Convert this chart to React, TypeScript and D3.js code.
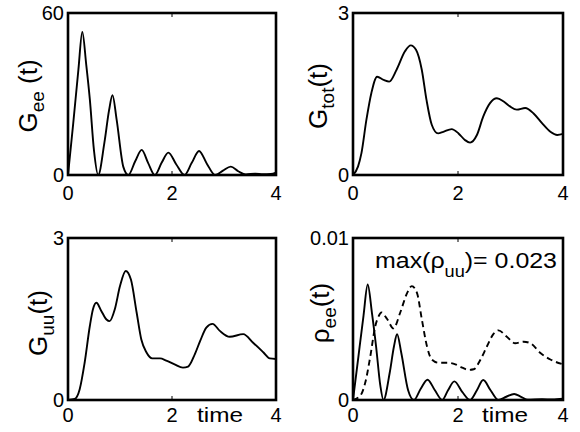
import React from "react";
import * as d3 from "d3";

// ---------- data ----------
const xTicks = [0, 2, 4];
const xTickLabels = ["0", "2", "4"];

const geeTicks = [0, 60];
const geeTickLabels = ["0", "60"];
const gTicks = [0, 3];
const gTickLabels = ["0", "3"];
const rhoTicks = [0, 0.01];
const rhoTickLabels = ["0", "0.01"];

const gee: [number, number][] = [
  [0, 0], [0.1, 19], [0.2, 39], [0.275, 53], [0.35, 41], [0.42, 28], [0.5, 9], [0.58, 0],
  [0.7, 12], [0.79, 24], [0.855, 29.6], [0.936, 20.4], [1.064, 3], [1.16, 0],
  [1.29, 5], [1.417, 9.3], [1.54, 4.5], [1.67, 0],
  [1.8, 4.5], [1.93, 8.3], [2.08, 4], [2.24, 0],
  [2.38, 4.5], [2.52, 8.9], [2.67, 4.2], [2.83, 0],
  [2.98, 1.6], [3.13, 3.1], [3.28, 1.3], [3.42, 0.2],
  [3.6, 0.5], [3.75, 0.3], [3.9, 0.4], [4, 0.9],
];

const gtot: [number, number][] = [
  [0, 0], [0.095, 0.155], [0.16, 0.4], [0.255, 1.02], [0.35, 1.52], [0.46, 1.82],
  [0.585, 1.76], [0.69, 1.73], [0.83, 1.95], [0.99, 2.29], [1.1, 2.4], [1.2, 2.32],
  [1.31, 1.95], [1.4, 1.39], [1.5, 0.93], [1.62, 0.77], [1.72, 0.8], [1.88, 0.85],
  [2.01, 0.77], [2.13, 0.65], [2.23, 0.6], [2.36, 0.74], [2.48, 1.08], [2.61, 1.33],
  [2.74, 1.42], [2.87, 1.36], [2.99, 1.27], [3.12, 1.21], [3.28, 1.24], [3.44, 1.14],
  [3.6, 0.96], [3.76, 0.8], [3.89, 0.74], [4, 0.76],
];

const guu: [number, number][] = [
  [0, 0], [0.13, 0.02], [0.225, 0.2], [0.32, 0.69], [0.42, 1.37], [0.48, 1.68],
  [0.546, 1.8], [0.64, 1.65], [0.74, 1.49], [0.8, 1.46], [0.9, 1.68], [1.0, 2.11],
  [1.11, 2.39], [1.21, 2.23], [1.32, 1.62], [1.41, 1.12], [1.51, 0.88], [1.62, 0.77],
  [1.77, 0.77], [1.89, 0.73], [2.05, 0.66], [2.21, 0.6], [2.31, 0.62], [2.44, 0.85],
  [2.54, 1.09], [2.66, 1.34], [2.78, 1.41], [2.92, 1.28], [3.11, 1.17], [3.37, 1.22],
  [3.56, 1.06], [3.76, 0.88], [3.88, 0.77], [4, 0.76],
];

const rhoEe: [number, number][] = [
  [0, 0], [0.1, 0.0026], [0.2, 0.0052], [0.28, 0.00713], [0.36, 0.0054], [0.44, 0.0033],
  [0.52, 0.0009], [0.58, 0],
  [0.7, 0.0017], [0.78, 0.0033], [0.84, 0.00406], [0.92, 0.0029], [1.05, 0.0006], [1.16, 0],
  [1.29, 0.0007], [1.42, 0.00125], [1.56, 0.0006], [1.7, 0],
  [1.81, 0.0006], [1.93, 0.00115], [2.08, 0.0005], [2.23, 0],
  [2.36, 0.0006], [2.48, 0.00123], [2.62, 0.0006], [2.77, 0],
  [2.92, 0.0002], [3.07, 0.00037], [3.2, 0.0002], [3.33, 0.00002],
  [3.6, 0.00005], [3.8, 0.00003], [4, 0.00008],
];

const rhoUu: [number, number][] = [
  [0, 0], [0.14, 0.00027], [0.235, 0.00109], [0.33, 0.0027], [0.425, 0.00457],
  [0.49, 0.00518], [0.54, 0.0054], [0.65, 0.005], [0.77, 0.00442], [0.9, 0.0054],
  [1.03, 0.0066], [1.12, 0.00703], [1.22, 0.0066], [1.31, 0.005], [1.41, 0.0033],
  [1.5, 0.0025], [1.63, 0.0023], [1.79, 0.0023], [1.95, 0.0022], [2.08, 0.002],
  [2.2, 0.00186], [2.3, 0.0019], [2.43, 0.0025], [2.55, 0.0033], [2.68, 0.0041],
  [2.77, 0.0043], [2.93, 0.0039], [3.09, 0.0035], [3.25, 0.0036], [3.38, 0.0035],
  [3.57, 0.0029], [3.76, 0.0025], [4, 0.0022],
];

// ---------- drawing ----------
const FONT = "'Liberation Sans', Arial, Helvetica, sans-serif";

type Panel = {
  left: number; right: number; top: number; bottom: number;
  yMax: number; yTicks: number[]; yTickLabels: string[];
  xBase: number;
  label: { main: string; sub: string; rest: string; x: number; y: number };
  series: { data: [number, number][]; dash?: string }[];
  time?: boolean;
  note?: boolean;
};

const panels: Panel[] = [
  {
    left: 68, right: 276, top: 13, bottom: 175, yMax: 60,
    yTicks: geeTicks, yTickLabels: geeTickLabels, xBase: 200,
    label: { main: "G", sub: "ee", rest: " (t)", x: 37, y: 96 },
    series: [{ data: gee }],
  },
  {
    left: 353, right: 563, top: 13, bottom: 175, yMax: 3,
    yTicks: gTicks, yTickLabels: gTickLabels, xBase: 200,
    label: { main: "G", sub: "tot", rest: "(t)", x: 327, y: 96 },
    series: [{ data: gtot }],
  },
  {
    left: 68, right: 276, top: 238, bottom: 400, yMax: 3,
    yTicks: gTicks, yTickLabels: gTickLabels, xBase: 422,
    label: { main: "G", sub: "uu", rest: "(t)", x: 47, y: 323 },
    series: [{ data: guu }],
    time: true,
  },
  {
    left: 353, right: 563, top: 238, bottom: 400, yMax: 0.01,
    yTicks: rhoTicks, yTickLabels: rhoTickLabels, xBase: 422,
    label: { main: "ρ", sub: "ee", rest: "(t)", x: 329, y: 313 },
    series: [{ data: rhoEe }, { data: rhoUu, dash: "6,4" }],
    time: true,
    note: true,
  },
];

function PanelView({ p }: { p: Panel }) {
  const x = d3.scaleLinear().domain([0, 4]).range([p.left, p.right]);
  const y = d3.scaleLinear().domain([0, p.yMax]).range([p.bottom, p.top]);
  const line = d3
    .line<[number, number]>()
    .x((d) => x(d[0]))
    .y((d) => y(d[1]))
    .curve(d3.curveMonotoneX);
  return (
    <g>
      {p.series.map((s, i) => (
        <path
          key={i}
          d={line(s.data) || ""}
          fill="none"
          stroke="#000"
          strokeWidth={1.9}
          strokeDasharray={s.dash}
          strokeLinejoin="round"
        />
      ))}
      <rect
        x={p.left}
        y={p.top}
        width={p.right - p.left}
        height={p.bottom - p.top}
        fill="none"
        stroke="#000"
        strokeWidth={2.6}
      />
      {xTicks.map((t, i) => (
        <g key={"xt" + i}>
          <line x1={x(t)} x2={x(t)} y1={p.bottom} y2={p.bottom - 4} stroke="#000" strokeWidth={1} />
          <line x1={x(t)} x2={x(t)} y1={p.top} y2={p.top + 4} stroke="#000" strokeWidth={1} />
          <text x={x(t)} y={p.xBase} textAnchor="middle" fontSize={20} fontFamily={FONT}>
            {xTickLabels[i]}
          </text>
        </g>
      ))}
      {p.yTicks.map((t, i) => (
        <text
          key={"yt" + i}
          x={p.left - 4}
          y={y(t) + 7}
          textAnchor="end"
          fontSize={20}
          fontFamily={FONT}
        >
          {p.yTickLabels[i]}
        </text>
      ))}
      <text
        transform={`translate(${p.label.x},${p.label.y}) rotate(-90)`}
        textAnchor="middle"
        fontSize={26}
        fontFamily={FONT}
      >
        {p.label.main}
        <tspan dy={7} fontSize={19}>{p.label.sub}</tspan>
        <tspan dy={-7}>{p.label.rest}</tspan>
      </text>
      {p.time && (
        <text
          x={p.left + 129}
          y={p.xBase}
          fontSize={21}
          fontFamily={FONT}
          textLength={46}
          lengthAdjust="spacingAndGlyphs"
        >
          time
        </text>
      )}
      {p.note && (
        <text
          x={p.left + 22}
          y={p.top + 30}
          fontSize={22}
          fontFamily={FONT}
          textLength={182}
          lengthAdjust="spacingAndGlyphs"
        >
          max(ρ<tspan dy={9} fontSize={16}>uu</tspan>
          <tspan dy={-9}>)= 0.023</tspan>
        </text>
      )}
    </g>
  );
}

export default function App() {
  return (
    <svg
      width={580}
      height={432}
      viewBox="0 0 580 432"
      style={{ position: "absolute", left: 0, top: 0, background: "#fff" }}
    >
      <rect x={0} y={0} width={580} height={432} fill="#fff" />
      {panels.map((p, i) => (
        <PanelView key={i} p={p} />
      ))}
    </svg>
  );
}
